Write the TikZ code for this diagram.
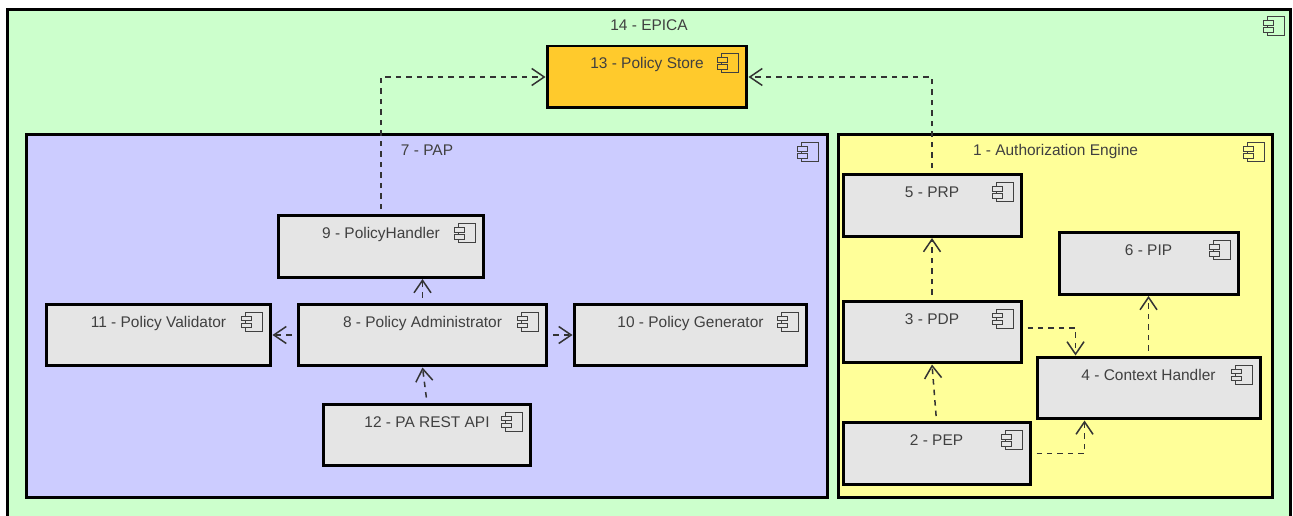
\documentclass[tikz,border=0pt]{standalone}
\usepackage{fontspec}
\setmainfont{Liberation Sans}
\usepackage{xcolor}
\usetikzlibrary{arrows.meta}
\usetikzlibrary{positioning}

\definecolor{cEpica}{HTML}{CCFFCC}
\definecolor{cPap}{HTML}{CCCCFF}
\definecolor{cEngine}{HTML}{FFFF99}
\definecolor{cComp}{HTML}{E5E5E5}
\definecolor{cStore}{HTML}{FFCA2C}
\definecolor{cText}{HTML}{404040}

\begin{document}
\begin{tikzpicture}[x=0.02cm,y=-0.02cm]

	\tikzstyle{vcomp} = [rectangle,draw=black,line width=0.06cm,fill=cComp,text=cText,font=\fontsize{8.8pt}{10pt}\selectfont,inner sep=0.1cm,text height=0.36cm,text depth=0.68cm]
	\tikzstyle{vgroup} = [vcomp,anchor=north,text height=0.32cm]
	\tikzstyle{vdep} = [-{Straight Barb[length=0.25cm,width=0.34cm,line width=0.03cm]},line width=0.03cm,draw=black!80,dash pattern=on 0.11cm off 0.1cm,dash phase=0.11cm]
	\tikzset{vicon/.pic={
		\draw[line width=0.02cm,draw=black!75] (-17,0) rectangle (0,19);
		\draw[pic actions,line width=0.02cm,draw=black!75] (-21,4) rectangle (-11,8.5);
		\draw[pic actions,line width=0.02cm,draw=black!75] (-21,11) rectangle (-11,15.5);
	}}

	\clip (0,0) rectangle (1293,516);
	\useasboundingbox (0,0) rectangle (1293,516);
	\fill[white] (0,0) rectangle (1293,516);

	\node[vgroup,fill=cEpica,minimum width=25.68cm,text depth=10.64cm] (v14) at (649,8.5) {14 - EPICA};
	\node[vgroup,fill=cPap,minimum width=16.04cm,text depth=6.74cm] (v7) at (427,133.5) {7 - PAP};
	\node[vgroup,fill=cEngine,minimum width=8.7cm,text depth=6.74cm] (v1) at (1055.5,133.5) {1 - Authorization Engine};

	\node[vcomp,fill=cStore,minimum width=4cm] (v13) at (647,77) {13 - Policy Store};
	\node[vcomp,minimum width=3.56cm] (v5) at (932,205.5) {5 - PRP};
	\node[vcomp,minimum width=3.58cm] (v6) at (1148.5,263.5) {6 - PIP};
	\node[vcomp,minimum width=3.56cm] (v3) at (932,332) {3 - PDP};
	\node[vcomp,minimum width=4.46cm] (v4) at (1148.5,388) {4 - Context Handler};
	\node[vcomp,minimum width=3.74cm] (v2) at (936.5,453.5) {2 - PEP};
	\node[vcomp,minimum width=4.12cm] (v9) at (381,246.5) {9 - PolicyHandler};
	\node[vcomp,minimum width=4.98cm] (v8) at (422.5,335) {8 - Policy Administrator};
	\node[vcomp,minimum width=4.5cm] (v11) at (158.5,335) {11 - Policy Validator};
	\node[vcomp,minimum width=4.66cm] (v10) at (690.5,335) {10 - Policy Generator};
	\node[vcomp,minimum width=4.16cm] (v12) at (427,435) {12 - PA REST API};

	\pic[fill=cEpica] at ([xshift=-0.15cm,yshift=-0.17cm]v14.north east) {vicon};
	\pic[fill=cPap] at ([xshift=-0.21cm,yshift=-0.19cm]v7.north east) {vicon};
	\pic[fill=cEngine] at ([xshift=-0.19cm,yshift=-0.19cm]v1.north east) {vicon};
	\pic[fill=cStore] at ([xshift=-0.19cm,yshift=-0.19cm]v13.north east) {vicon};
	\pic[fill=cComp] at ([xshift=-0.19cm,yshift=-0.19cm]v5.north east) {vicon};
	\pic[fill=cComp] at ([xshift=-0.19cm,yshift=-0.19cm]v6.north east) {vicon};
	\pic[fill=cComp] at ([xshift=-0.19cm,yshift=-0.19cm]v3.north east) {vicon};
	\pic[fill=cComp] at ([xshift=-0.19cm,yshift=-0.19cm]v4.north east) {vicon};
	\pic[fill=cComp] at ([xshift=-0.19cm,yshift=-0.19cm]v2.north east) {vicon};
	\pic[fill=cComp] at ([xshift=-0.19cm,yshift=-0.19cm]v9.north east) {vicon};
	\pic[fill=cComp] at ([xshift=-0.19cm,yshift=-0.19cm]v8.north east) {vicon};
	\pic[fill=cComp] at ([xshift=-0.19cm,yshift=-0.19cm]v11.north east) {vicon};
	\pic[fill=cComp] at ([xshift=-0.19cm,yshift=-0.19cm]v10.north east) {vicon};
	\pic[fill=cComp] at ([xshift=-0.19cm,yshift=-0.19cm]v12.north east) {vicon};

	\draw[vdep] (v9.north) |- (v13.west);
	\draw[vdep] (v5.north) |- (v13.east);
	\draw[vdep] (v3.north) -- (v5.south);
	\draw[vdep] (v2.north) -- (v3.south);
	\draw[vdep] (v4.north) -- (v6.south);
	\draw[vdep] ([yshift=0.08cm]v3.east) -| ([xshift=-1.46cm]v4.north);
	\draw[vdep] (v2.east) -| ([xshift=-1.28cm]v4.south);
	\draw[vdep] (v8.north) -- (v8.north |- v9.south);
	\draw[vdep] (v12.north) -- (v8.south);
	\draw[vdep] (v8.west) -- (v11.east);
	\draw[vdep] (v8.east) -- (v10.west);

\end{tikzpicture}
\end{document}
